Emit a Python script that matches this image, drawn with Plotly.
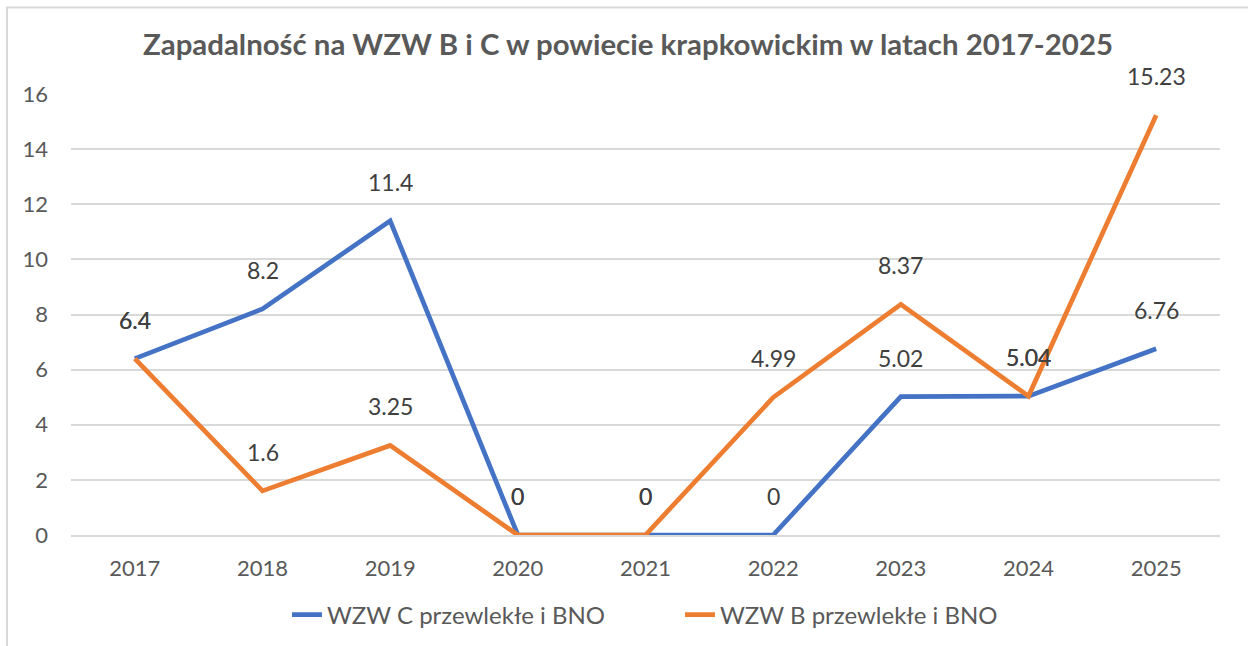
import plotly.graph_objects as go

years = ["2017", "2018", "2019", "2020", "2021", "2022", "2023", "2024", "2025"]
wzw_c = [6.4, 8.2, 11.4, 0, 0, 0, 5.02, 5.04, 6.76]
wzw_b = [6.4, 1.6, 3.25, 0, 0, 4.99, 8.37, 5.04, 15.23]
name_c = "WZW C przewlekłe i BNO"
name_b = "WZW B przewlekłe i BNO"
title = "Zapadalność na WZW B i C w powiecie krapkowickim w latach 2017-2025"

BLUE = "#4472C4"
ORANGE = "#ED7D31"
FONT = "Lato"

fig = go.Figure()
fig.add_trace(go.Scatter(x=years, y=wzw_c, mode="lines", name=name_c,
                         line=dict(color=BLUE, width=4.7)))
fig.add_trace(go.Scatter(x=years, y=wzw_b, mode="lines", name=name_b,
                         line=dict(color=ORANGE, width=4.7)))

def fmt(v):
    return ("%g" % v)

for series in (wzw_c, wzw_b):
    for i, v in enumerate(series):
        fig.add_annotation(x=i, y=v, xref="x", yref="y", text=fmt(v),
                           showarrow=False, yshift=39,
                           font=dict(family=FONT, size=23, color="#404040"))

L, R, T, B = 71, 28, 94, 111
W, H = 1248, 646
pw = W - L - R
ph = H - T - B

fig.add_shape(type="rect", xref="paper", yref="paper",
              x0=(7 - L) / pw, x1=(1270 - L) / pw,
              y0=-(B + 30) / ph, y1=(ph + T - 7.5) / ph,
              line=dict(color="#D9D9D9", width=2), layer="below")

fig.update_layout(
    width=W, height=H,
    margin=dict(l=L, r=R, t=T, b=B, autoexpand=False),
    paper_bgcolor="white", plot_bgcolor="white",
    font=dict(family=FONT, color="#595959", size=22),
    title=dict(text="<b>" + title + "</b>", x=628 / W, xanchor="center",
               y=1 - 45 / H, yanchor="middle", yref="container",
               font=dict(family=FONT, size=29.4, color="#595959")),
    showlegend=True,
    legend=dict(orientation="h", x=(680 - L) / pw, xanchor="center",
                yref="container", y=1 - 615 / H, yanchor="middle",
                entrywidth=348, entrywidthmode="pixels",
                font=dict(family=FONT, size=24, color="#595959")),
    xaxis=dict(type="category", range=[-0.5, 8.5], showgrid=False,
               showline=True, linecolor="#D9D9D9", linewidth=1.5,
               ticks="", ticklabelstandoff=13,
               tickfont=dict(family=FONT, size=22, color="#595959")),
    yaxis=dict(range=[0, 16], dtick=2, tick0=0, showgrid=True,
               gridcolor="#D9D9D9", gridwidth=1.5, zeroline=False,
               showline=False, ticks="", ticklabelstandoff=22,
               tickfont=dict(family=FONT, size=22, color="#595959")),
)

fig.write_html("out.html", config={"displayModeBar": False},
               post_script="document.body.style.margin='0';")
